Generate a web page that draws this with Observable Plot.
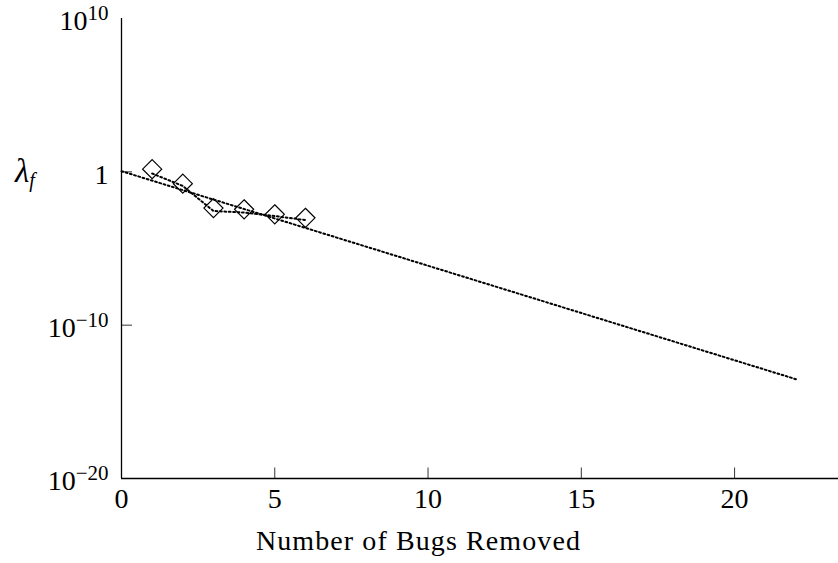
<!DOCTYPE html>
<html>
<head>
<meta charset="utf-8">
<script src="https://cdn.jsdelivr.net/npm/d3@7"></script>
<script src="https://cdn.jsdelivr.net/npm/@observablehq/plot@0.6"></script>
<style>
  html, body { margin: 0; padding: 0; background: #fff; }
  svg text { font-family: "Liberation Serif", "DejaVu Serif", serif; }
</style>
</head>
<body>
<div id="chart"></div>
<script>
// Observed data (diamond markers)
const bugsRemoved = [1, 2, 3, 4, 5, 6];
const lambdaMarkers = [1.5, 0.17, 0.0043, 0.0036, 0.0017, 0.001];
// Dotted line joining the observations
const lambdaObserved = [0.78, 0.12, 0.0028, 0.0022, 0.0013, 0.00072];
// Fitted exponential trend (dotted)
const fitX = [0, 22];
const fitY = [1.1, 3e-14];
// Axis ticks
const xTicks = [0, 5, 10, 15, 20];
const yTicks = [1e10, 1, 1e-10, 1e-20];
const yTickLabels = ["10^10", "1", "10^-10", "10^-20"];

const obs = bugsRemoved.map((b, i) => ({b, m: lambdaMarkers[i], o: lambdaObserved[i]}));
const fit = fitX.map((x, i) => ({x, y: fitY[i]}));

const W = 838, H = 563;
const chart = Plot.plot({
  width: W,
  height: H,
  marginLeft: 121,
  marginRight: 0,
  marginTop: 18,
  marginBottom: 85,
  style: {background: "#fff", color: "#000", fontFamily: "Liberation Serif, serif"},
  x: {domain: [0, 23.39], axis: null},
  y: {type: "log", domain: [1e-20, 1e10], axis: null},
  marks: [
    // axis lines
    Plot.ruleX([0], {stroke: "#000", strokeWidth: 1.3}),
    Plot.ruleY([1e-20], {stroke: "#000", strokeWidth: 1.3}),
    // inward ticks
    Plot.ruleX(xTicks.slice(1), {x: d => d, insetTop: 449.5, stroke: "#000", strokeWidth: 0.8}),
    Plot.ruleY(yTicks.slice(1, 3), {y: d => d, insetRight: 706, stroke: "#000", strokeWidth: 0.8}),
    // tick labels
    Plot.axisX(xTicks, {tickSize: 0, tickPadding: 10, fontSize: 28, label: null}),
    Plot.axisY(yTicks, {tickSize: 0, tickPadding: 13, fontSize: 28, dy: 3, label: null,
      tickFormat: d => yTickLabels[yTicks.indexOf(d)]}),
    // fitted dotted line
    Plot.line(fit, {x: "x", y: "y", stroke: "#000", strokeWidth: 2, strokeDasharray: "1.8,2.6"}),
    // observed dotted line
    Plot.line(obs, {x: "b", y: "o", stroke: "#000", strokeWidth: 2, strokeDasharray: "1.8,2.6"}),
    // diamond markers
    Plot.dot(obs, {x: "b", y: "m", symbol: "diamond2", r: 8.6, stroke: "#000", strokeWidth: 1.2, fill: "none"}),
    // x label
    Plot.text(["Number of Bugs Removed"], {frameAnchor: "bottom-left", dx: 297, dy: 71, textAnchor: "middle", lineAnchor: "bottom", fontSize: 28, fill: "#000"})
  ]
});

// letter spacing on axis title to match the wider reference face
d3.select(chart).selectAll("text").filter(function() { return this.textContent === "Number of Bugs Removed"; })
  .style("letter-spacing", "1.1px");

// superscripts on y tick labels
d3.select(chart).selectAll("text").each(function() {
  const t = this.textContent;
  const m = /^10\^(-?\d+)$/.exec(t);
  if (m) {
    const sel = d3.select(this);
    sel.text("10");
    sel.append("tspan").attr("dy", -10).attr("font-size", 21)
      .text(m[1].replace("-", "\u2212"));
  }
});

// lambda_f label
const lab = d3.select(chart).append("text")
  .attr("x", 25).attr("y", 182)
  .attr("font-size", 33).attr("font-style", "italic").attr("fill", "#000")
  .style("font-family", "Liberation Serif, serif");
lab.append("tspan").text("\u03bb");
lab.append("tspan").attr("dy", 5).attr("font-size", 20).text("f");

document.getElementById("chart").appendChild(chart);
</script>
</body>
</html>
